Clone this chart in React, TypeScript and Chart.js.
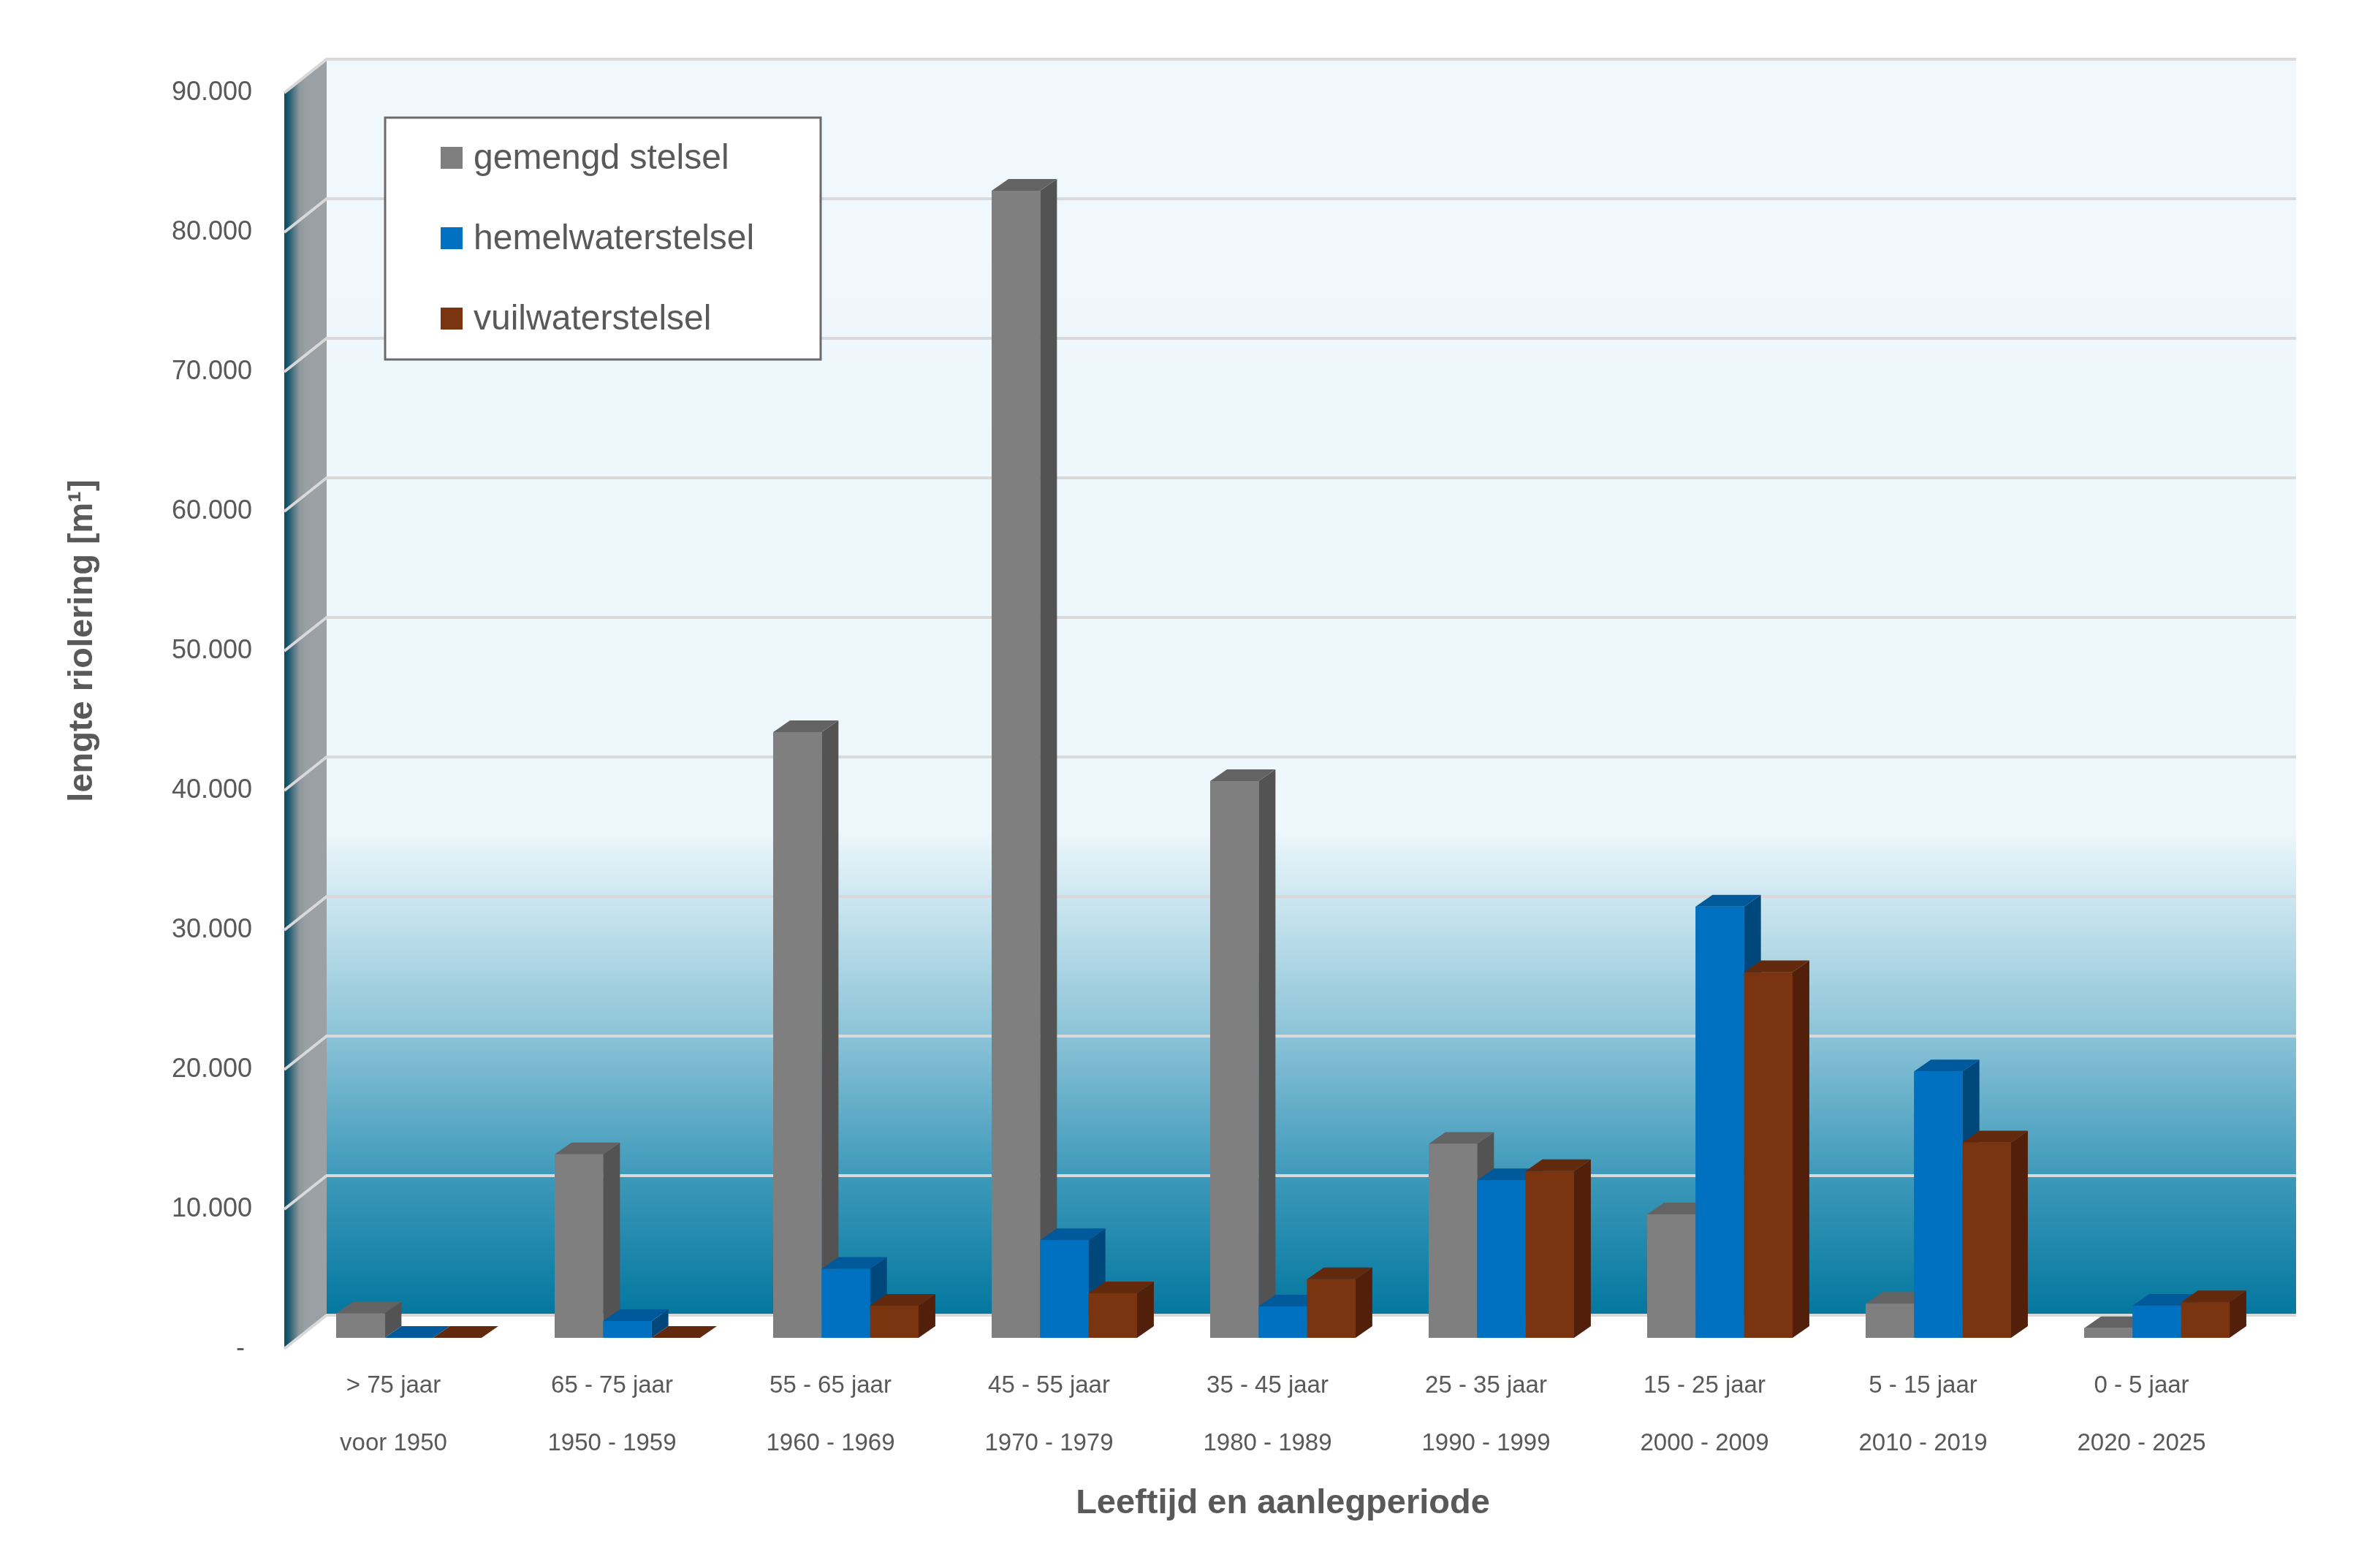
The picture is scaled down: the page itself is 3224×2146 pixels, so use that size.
import { useEffect, useRef } from "react";
import { Chart, registerables } from "chart.js";

Chart.register(...registerables);

// age classes and construction periods (two-line category labels)
const ageRanges = ['> 75 jaar', '65 - 75 jaar', '55 - 65 jaar', '45 - 55 jaar', '35 - 45 jaar', '25 - 35 jaar', '15 - 25 jaar', '5 - 15 jaar', '0 - 5 jaar'];
const periods = ['voor 1950', '1950 - 1959', '1960 - 1969', '1970 - 1979', '1980 - 1989', '1990 - 1999', '2000 - 2009', '2010 - 2019', '2020 - 2025'];

const seriesNames = ['gemengd stelsel', 'hemelwaterstelsel', 'vuilwaterstelsel'];
const gemengd = [1750, 13150, 43400, 82200, 39900, 13900, 8850, 2450, 700];
const hemelwater = [0, 1200, 4950, 7000, 2250, 11300, 30900, 19100, 2300];
const vuilwater = [0, 0, 2300, 3200, 4200, 11950, 26200, 14000, 2550];

const yMax = 90000;
const yStep = 10000;

const FONT = "'Liberation Sans', Arial, sans-serif";
const TEXT = '#595959';

// fake 3D: offsets relative to the plane the bars stand in
const FRONT = { dx: -21, dy: 15 };
const BACK = { dx: 37, dy: -31 };
const DEPTH = { dx: 23, dy: -16 };

const faces = [
    { front: '#7f7f7f', side: '#535353', top: '#636363' },
    { front: '#0070c0', side: '#00477c', top: '#00599b' },
    { front: '#7b3410', side: '#52200a', top: '#62290d' },
];

const fmt = (v: number) => v === 0 ? '- ' : `${v / 1000}.000`;

const poly = (ctx: CanvasRenderingContext2D, pts: number[][], fill: any) => {
    ctx.beginPath();
    ctx.moveTo(pts[0][0], pts[0][1]);
    for (let i = 1; i < pts.length; i++) ctx.lineTo(pts[i][0], pts[i][1]);
    ctx.closePath();
    ctx.fillStyle = fill;
    ctx.fill();
};

const wallsPlugin = {
    id: 'walls',
    beforeDraw(chart: any) {
        const { ctx, chartArea: a } = chart;
        const y = chart.scales.y;
        const top = y.getPixelForValue(yMax);
        const bottom = y.getPixelForValue(0);
        const bx0 = a.left + BACK.dx;
        const bx1 = a.right + BACK.dx + 4;
        const fx = a.left + FRONT.dx;
        ctx.save();

        // back wall
        const g = ctx.createLinearGradient(0, top + BACK.dy, 0, bottom + BACK.dy);
        g.addColorStop(0, '#f0f8fd');
        g.addColorStop(0.615, '#edf7fc');
        g.addColorStop(0.675, '#c8e4ef');
        g.addColorStop(0.78, '#8ac2d7');
        g.addColorStop(0.89, '#3d99ba');
        g.addColorStop(1, '#03779f');
        ctx.fillStyle = g;
        ctx.fillRect(bx0, top + BACK.dy, bx1 - bx0, bottom - top);

        // left side wall
        const s = ctx.createLinearGradient(fx, 0, bx0, 0);
        s.addColorStop(0, '#0b4a62');
        s.addColorStop(0.1, '#1d596f');
        s.addColorStop(0.35, '#8c969b');
        s.addColorStop(0.5, '#9aa0a4');
        s.addColorStop(1, '#9ca1a5');
        poly(ctx, [[fx, top + FRONT.dy], [bx0, top + BACK.dy], [bx0, bottom + BACK.dy], [fx, bottom + FRONT.dy]], s);

        // grid lines on side and back wall
        ctx.strokeStyle = '#d9d9d9';
        ctx.lineWidth = 4;
        y.ticks.forEach((t: any) => {
            const py = y.getPixelForValue(t.value);
            ctx.beginPath();
            ctx.moveTo(fx, py + FRONT.dy);
            ctx.lineTo(bx0, py + BACK.dy);
            ctx.lineTo(bx1, py + BACK.dy);
            ctx.stroke();
        });
        ctx.restore();
    },
    afterDatasetsDraw(chart: any) {
        // redraw the bars as boxes, left series first so the faces overlap correctly
        const { ctx } = chart;
        ctx.save();
        chart.data.datasets.forEach((_: any, i: number) => {
            const c = faces[i];
            chart.getDatasetMeta(i).data.forEach((bar: any) => {
                const { x, y, base, width } = bar.getProps(['x', 'y', 'base', 'width'], true);
                const l = x - width / 2;
                const r = x + width / 2;
                poly(ctx, [[r, y], [r + DEPTH.dx, y + DEPTH.dy], [r + DEPTH.dx, base + DEPTH.dy], [r, base]], c.side);
                poly(ctx, [[l, y], [r, y], [r + DEPTH.dx, y + DEPTH.dy], [l + DEPTH.dx, y + DEPTH.dy]], c.top);
                poly(ctx, [[l, y], [r, y], [r, base], [l, base]], c.front);
            });
        });
        ctx.restore();
    },
    afterDraw(chart: any) {
        const { ctx } = chart;
        ctx.save();

        // legend box
        ctx.fillStyle = '#ffffff';
        ctx.fillRect(527, 161, 596, 331);
        ctx.strokeStyle = '#6b6b6b';
        ctx.lineWidth = 3;
        ctx.strokeRect(527, 161, 596, 331);
        ctx.font = `48px ${FONT}`;
        ctx.textBaseline = 'middle';
        ctx.textAlign = 'left';
        chart.data.datasets.forEach((ds: any, i: number) => {
            const cy = 216 + i * 110;
            ctx.fillStyle = faces[i].front;
            ctx.fillRect(603, cy - 15, 30, 30);
            ctx.fillStyle = TEXT;
            ctx.fillText(ds.label, 648, cy + 2);
        });

        // y axis title
        ctx.translate(113, 877);
        ctx.rotate(-Math.PI / 2);
        ctx.textAlign = 'center';
        ctx.font = `bold 47px ${FONT}`;
        ctx.fillStyle = TEXT;
        ctx.fillText('lengte riolering [m¹]', 0, 0);
        ctx.restore();
    },
};

const App = () => {
    const canvasRef = useRef<HTMLCanvasElement>(null);

    useEffect(() => {
        const canvas = canvasRef.current;
        if (!canvas) return;

        const labels = ageRanges.map((a, i) => [a, periods[i]]);
        const values = [gemengd, hemelwater, vuilwater];

        const chart = new Chart(canvas, {
            type: 'bar',
            data: {
                labels,
                datasets: values.map((d, i) => ({
                    label: seriesNames[i],
                    data: d,
                    backgroundColor: faces[i].front,
                    borderWidth: 0,
                    categoryPercentage: 0.665,
                    barPercentage: 1,
                })),
            },
            options: {
                animation: false,
                responsive: true,
                maintainAspectRatio: false,
                devicePixelRatio: 1,
                layout: { padding: { top: 112, right: 123, left: 0, bottom: 0 } },
                plugins: {
                    legend: { display: false },
                    tooltip: { enabled: false },
                },
                scales: {
                    x: {
                        grid: { display: false, drawTicks: false },
                        border: { display: false },
                        ticks: {
                            font: { family: FONT, size: 33, lineHeight: 2.4 },
                            color: TEXT,
                            padding: 26,
                            labelOffset: FRONT.dx,
                            maxRotation: 0,
                            autoSkip: false,
                        },
                        title: {
                            display: true,
                            text: 'Leeftijd en aanlegperiode',
                            font: { family: FONT, size: 47, weight: 'bold' },
                            color: TEXT,
                            padding: { top: 0, bottom: 60 },
                        },
                        afterFit: (s: any) => { s.height = 315; },
                    },
                    y: {
                        min: 0,
                        max: yMax,
                        grid: { display: false, drawTicks: false },
                        border: { display: false },
                        ticks: {
                            stepSize: yStep,
                            font: { family: FONT, size: 36 },
                            color: TEXT,
                            padding: 65,
                            labelOffset: FRONT.dy,
                            callback: (v: any) => fmt(Number(v)),
                        },
                        afterFit: (s: any) => { s.width = 410; },
                    },
                },
            },
            plugins: [wallsPlugin],
        } as any);

        return () => {
            chart.destroy();
        };
    }, []);

    return (
        <div style={{ position: 'fixed', left: 0, top: 0, width: 3224, height: 2146, background: '#ffffff' }}>
            <canvas ref={canvasRef}></canvas>
        </div>
    );
};

export default App;
